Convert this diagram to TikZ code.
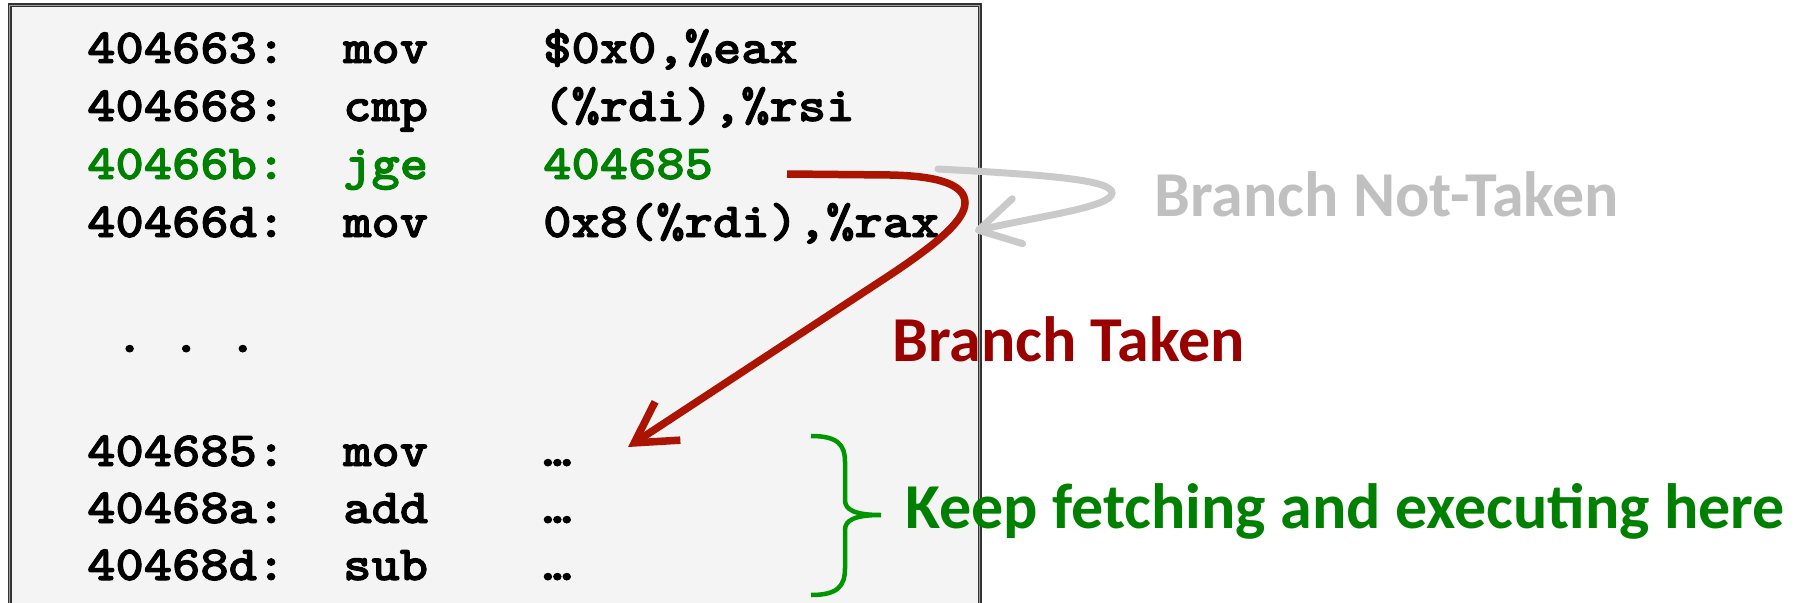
\documentclass[tikz,border=0pt]{standalone}
\usepackage{fontspec}
\newfontfamily\codefont{lmmonolt10-bold}[Extension=.otf, FakeStretch=1.1, FakeBold=2]
\newfontfamily\labelfont{Carlito}
\usetikzlibrary{arrows.meta}

\definecolor{boxbg}{RGB}{244,244,244}
\definecolor{boxline}{RGB}{50,50,50}
\definecolor{boxmid}{RGB}{160,160,160}
\definecolor{codegreen}{RGB}{0,128,0}
\definecolor{bracegreen}{RGB}{0,150,0}
\definecolor{takenred}{RGB}{153,0,0}
\definecolor{arrowred}{RGB}{170,20,0}
\definecolor{nottakengrey}{RGB}{192,192,192}
\definecolor{arrowgrey}{RGB}{202,202,202}

\begin{document}
\begin{tikzpicture}[x=1pt,y=-1pt,
  code/.style={anchor=base west, inner sep=0pt,
    font=\fontsize{49}{52}\selectfont\codefont},
  hot/.style={code, text=codegreen},
  lbl/.style={anchor=base west, inner sep=0pt,
    font=\fontsize{64}{70}\selectfont\labelfont\bfseries},
  boxedge/.style={draw=boxline, line width=1.2pt, double=boxmid, double distance=1.6pt},
  takenarrow/.style={draw=arrowred, line width=7.5pt,
    -{Straight Barb[length=40pt,width=46pt]}},
  notarrow/.style={draw=arrowgrey, line width=7pt, line cap=round,
    -{Straight Barb[length=40pt,width=46pt,round]}},
  bracepath/.style={draw=bracegreen, line width=4.5pt}
]
\useasboundingbox (0,0) rectangle (1803,602);

% code listing panel (open at the bottom edge)
\fill[boxbg] (9.5,5.5) rectangle (979.5,615);
\draw[boxedge] (9.5,615) -- (9.5,5.5) -- (979.5,5.5) -- (979.5,615);

% listing rows: address, mnemonic, operands
\node[code] (a1) at (87,63)  {404663:};
\node[code] (m1) at (343,63) {mov};
\node[code] (o1) at (543,63) {\$0x0,\%eax};

\node[code] (a2) at (87,121)  {404668:};
\node[code] (m2) at (343,121) {cmp};
\node[code] (o2) at (543,121) {(\%rdi),\%rsi};

\node[hot] (a3) at (87,179)  {40466b:};
\node[hot] (m3) at (343,179) {jge};
\node[hot] (o3) at (543,179) {404685};

\node[code] (a4) at (87,237)  {40466d:};
\node[code] (m4) at (343,237) {mov};
\node[code] (o4) at (543,237) {0x8(\%rdi),\%rax};

\node[code] (gap) at (87,352) {\ .\ .\ .};

\node[code] (a5) at (87,466)  {404685:};
\node[code] (m5) at (343,466) {mov};
\node[code] (o5) at (543,466) {…};

\node[code] (a6) at (87,523)  {40468a:};
\node[code] (m6) at (343,523) {add};
\node[code] (o6) at (543,523) {…};

\node[code] (a7) at (87,580)  {40468d:};
\node[code] (m7) at (343,580) {sub};
\node[code] (o7) at (543,580) {…};

% labels
\node[lbl, text=nottakengrey] (nottaken) at (1154,216) {Branch Not-Taken};
\node[lbl, text=takenred] (taken) at (892,361) {Branch Taken};
\node[lbl, text=codegreen] (keep) at (905,528) {Keep fetching and executing here};

% branch arrows
\coordinate (takenFrom) at (787,174);
\coordinate (takenTo) at (628,447);
\draw[takenarrow] (takenFrom) -- (890,175)
  .. controls (940,176) and (965,185) .. (965,203)
  .. controls (965,222) and (930,248) .. (893,273) -- (takenTo);

\coordinate (notFrom) at (938,169);
\coordinate (notTo) at (975,231);
\draw[notarrow] (notFrom) .. controls (1050,175) and (1112,180) .. (1112,193)
  .. controls (1112,207) and (1040,216) .. (notTo);

% brace grouping the target block
\draw[bracepath] (811,436) .. controls (838,436) and (845,445) .. (845,462)
  -- (845,500) .. controls (845,510) and (855,515) .. (881,515)
  .. controls (855,515) and (845,520) .. (845,530)
  -- (845,568) .. controls (845,586) and (838,595) .. (811,595);
\end{tikzpicture}
\end{document}
